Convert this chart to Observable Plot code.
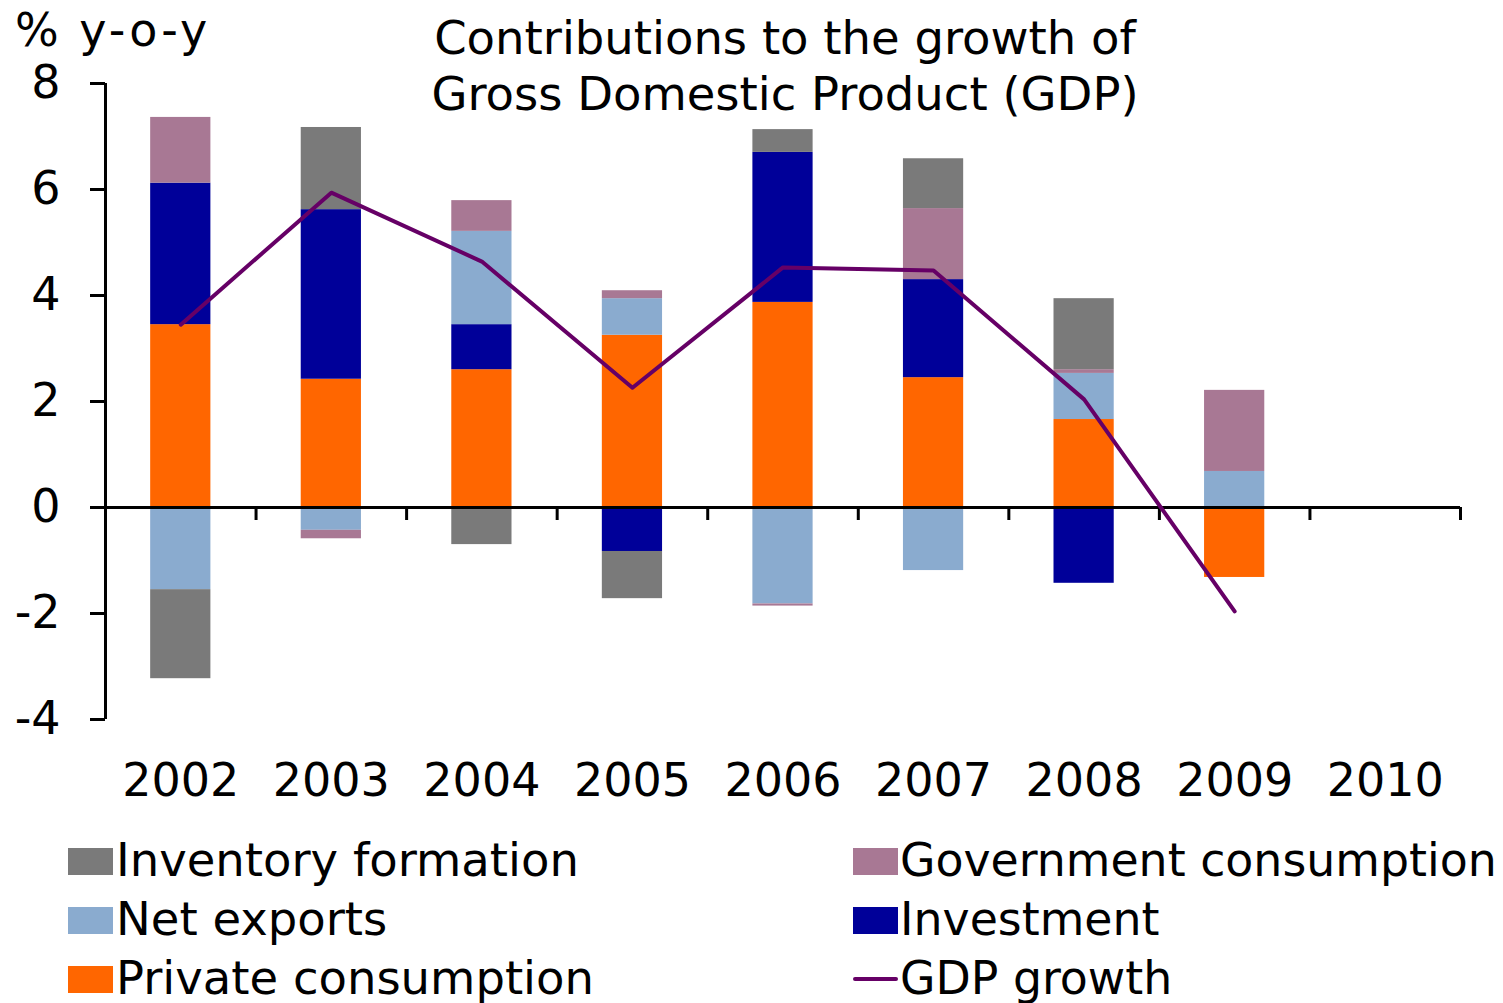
<!DOCTYPE html>
<html><head><meta charset="utf-8">
<script src="https://cdn.jsdelivr.net/npm/d3@7"></script>
<script src="https://cdn.jsdelivr.net/npm/@observablehq/plot@0.6"></script>
<style>
html,body{margin:0;padding:0;background:#fff;}
#wrap{position:relative;width:1503px;height:1003px;overflow:hidden;font-family:"DejaVu Sans",Verdana,sans-serif;color:#000;background:#fff;}
#chart{position:absolute;left:0;top:0;}
.title{position:absolute;left:0;width:1570px;top:10px;text-align:center;font-size:46.5px;line-height:56px;white-space:nowrap;}
.unit{position:absolute;left:15px;top:2px;font-size:46px;letter-spacing:3px;line-height:56px;white-space:nowrap;}
.item{position:absolute;height:48px;width:650px;}
.sw{position:absolute;left:0;top:12px;width:45px;height:27px;}
.ln{position:absolute;left:0;top:23px;width:45px;height:4px;border-radius:2px;}
.lt{position:absolute;left:48px;top:0;font-size:46.5px;line-height:48px;white-space:nowrap;}
.right .lt{font-size:45.8px;left:47px;}
</style></head><body>
<div id="wrap">
  <div id="chart"></div>
  <div class="title">Contributions to the growth of<br>Gross Domestic Product (GDP)</div>
  <div class="unit">% y-o-y</div>
  <div id="legend"></div>
</div>
<script>
// ---- data ----
const years = ["2002","2003","2004","2005","2006","2007","2008","2009","2010"];
const components = ["Private consumption","Investment","Net exports","Government consumption","Inventory formation"];
const componentColors = ["#ff6600","#000099","#8aabcf","#a87894","#7a7a7a"];
const privateConsumption = [3.45, 2.42, 2.60, 3.25, 3.87, 2.45, 1.66, -1.32, null];
const investment        = [2.67, 3.20, 0.85, -0.83, 2.83, 1.85, -1.43, null, null];
const netExports        = [-1.55, -0.43, 1.76, 0.69, -1.82, -1.19, 0.87, 0.68, null];
const governmentCons    = [1.24, -0.16, 0.58, 0.15, -0.04, 1.34, 0.07, 1.53, null];
const inventoryForm     = [-1.68, 1.55, -0.70, -0.89, 0.43, 0.94, 1.34, null, null];
const gdpGrowth         = [3.45, 5.94, 4.64, 2.26, 4.53, 4.47, 2.04, -1.96, null];
const yTicks = [-4, -2, 0, 2, 4, 6, 8];
const legendLeft = ["Inventory formation","Net exports","Private consumption"];
const legendRight = ["Government consumption","Investment","GDP growth"];
const gdpColor = "#660066";

// ---- build table ----
const seriesValues = [privateConsumption, investment, netExports, governmentCons, inventoryForm];
const rows = [];
years.forEach((yr, i) => {
  components.forEach((c, k) => {
    const v = seriesValues[k][i];
    if (v != null) rows.push({year: yr, component: c, value: v});
  });
});
const gdpRows = years.map((yr, i) => ({year: yr, gdp: gdpGrowth[i]})).filter(d => d.gdp != null);

// ---- layout ----
const W = 1503, H = 820, ML = 105, MR = 43, MT = 83, MB = H - 719;
const step = (W - ML - MR) / years.length;

const chart = Plot.plot({
  width: W, height: H,
  marginTop: MT, marginBottom: MB, marginLeft: ML, marginRight: MR,
  style: {fontFamily: "DejaVu Sans, Verdana, sans-serif", fontSize: "46px", color: "#000", background: "#fff", overflow: "visible"},
  x: {type: "band", domain: years, paddingInner: 0.6, paddingOuter: 0.3, round: false},
  y: {domain: [-4, 8]},
  color: {domain: components, range: componentColors},
  marks: [
    Plot.barY(rows, {x: "year", y: "value", fill: "component", order: components}),
    Plot.ruleY([0], {stroke: "#000", strokeWidth: 3}),
    Plot.ruleX(years, {x: d => d, y1: 0, y2: 0, insetBottom: -13, dx: step / 2, stroke: "#000", strokeWidth: 3}),
    Plot.ruleX([years[0]], {x: d => d, y1: -4, y2: 8, dx: -step / 2, stroke: "#000", strokeWidth: 3}),
    Plot.axisY({ticks: yTicks, tickSize: 15, tickPadding: 30, tickFormat: d => String(d), strokeWidth: 3, fontSize: 46, label: null}),
    Plot.axisX({tickSize: 0, tickPadding: 44, fontSize: 46, label: null}),
    Plot.lineY(gdpRows, {x: "year", y: "gdp", stroke: gdpColor, strokeWidth: 4})
  ]
});
document.getElementById("chart").appendChild(chart);

// ---- legend ----
const legend = document.getElementById("legend");
const colorOf = name => componentColors[components.indexOf(name)];
function addItem(name, left, top, side) {
  const d = document.createElement("div");
  d.className = "item " + side;
  d.style.left = left + "px";
  d.style.top = top + "px";
  const s = document.createElement("div");
  if (name === "GDP growth") { s.className = "ln"; s.style.background = gdpColor; }
  else { s.className = "sw"; s.style.background = colorOf(name); }
  const t = document.createElement("div");
  t.className = "lt";
  t.textContent = name;
  d.appendChild(s); d.appendChild(t);
  legend.appendChild(d);
}
const rowTops = [836, 895, 954];
legendLeft.forEach((n, i) => addItem(n, 68, rowTops[i], "left"));
legendRight.forEach((n, i) => addItem(n, 853, rowTops[i], "right"));
</script>
</body></html>
